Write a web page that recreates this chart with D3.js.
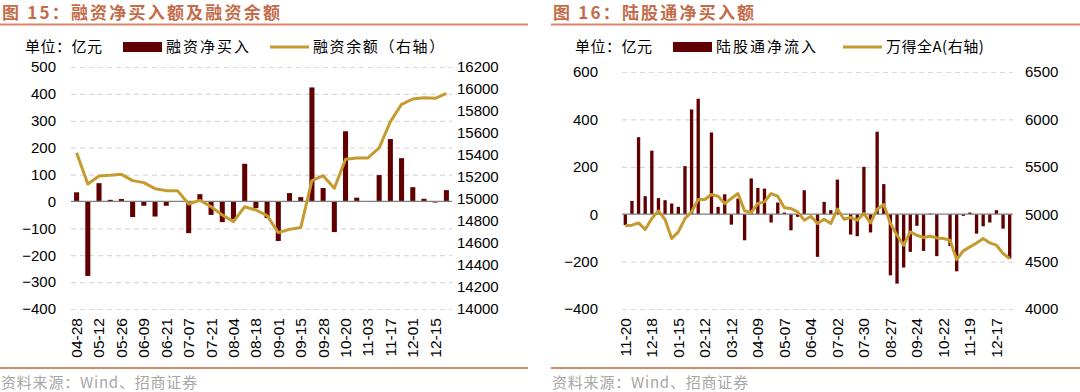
<!DOCTYPE html>
<html>
<head>
<meta charset="utf-8">
<script src="https://cdn.jsdelivr.net/npm/d3@7"></script>
<style>
  body { margin: 0; background: #fff; }
  .cjk { font-family: "Noto Sans CJK SC", "Noto Sans", sans-serif; }
</style>
</head>
<body>
<svg id="chart" width="1080" height="392"></svg>
<script>
'use strict';

// ---- left panel: margin financing (weekly) ----
const marginDates = ['04-28', '05-05', '05-12', '05-19', '05-26', '06-02', '06-09', '06-16', '06-21', '06-30',
  '07-07', '07-14', '07-21', '07-28', '08-04', '08-11', '08-18', '08-25', '09-01', '09-08',
  '09-15', '09-22', '09-28', '10-13', '10-20', '10-27', '11-03', '11-10', '11-17', '11-24',
  '12-01', '12-08', '12-15', '12-22'];
const marginNetBuy = [34, -277, 68, 6, 9, -58, -16, -56, -16, 0,
  -118, 27, -50, -77, -65, 140, -25, -62, -147, 31,
  16, 424, 50, -114, 261, 14, 0, 98, 232, 161,
  53, 10, -4, 42];
const marginBalance = [15421, 15136, 15209, 15215, 15224, 15167, 15149, 15094, 15076, 15076,
  14955, 14988, 14930, 14855, 14794, 14930, 14900, 14849, 14694, 14724,
  14740, 15167, 15212, 15097, 15361, 15373, 15373, 15464, 15703, 15861,
  15909, 15921, 15915, 15961];
const marginLeftTicks = [-400, -300, -200, -100, 0, 100, 200, 300, 400, 500];
const marginRightTicks = [14000, 14200, 14400, 14600, 14800, 15000, 15200, 15400, 15600, 15800, 16000, 16200];

// ---- right panel: northbound flow (weekly) ----
const hkDates = ['11-20', '11-27', '12-04', '12-11', '12-18', '12-25', '01-01', '01-08', '01-15', '01-22',
  '01-29', '02-05', '02-12', '02-19', '02-26', '03-05', '03-12', '03-19', '03-26', '04-02',
  '04-09', '04-16', '04-23', '04-30', '05-07', '05-14', '05-21', '05-28', '06-04', '06-11',
  '06-18', '06-25', '07-02', '07-09', '07-16', '07-23', '07-30', '08-06', '08-13', '08-20',
  '08-27', '09-03', '09-10', '09-17', '09-24', '10-01', '10-08', '10-15', '10-22', '10-29',
  '11-05', '11-12', '11-19', '11-26', '12-03', '12-10', '12-17', '12-24', '12-31'];
const hkNetFlow = [-46, 56, 325, 76, 268, 68, 59, 45, 31, 203,
  442, 487, 0, 345, 31, 84, -44, 66, -110, 151,
  111, 108, -35, 49, 7, -68, -11, 101, 0, -180,
  52, 17, 146, 0, -86, -93, 200, -77, 348, 127,
  -258, -293, -225, -159, -49, -155, 3, -177, 0, -134,
  -241, -7, 7, -82, -51, -35, 17, -61, -187];
const windA = [4877, 4884, 4908, 4838, 4954, 5035, 4944, 4743, 4813, 4954,
  5025, 5155, 5155, 5208, 5190, 5113, 5166, 5218, 5035, 5018,
  5113, 5130, 5218, 5190, 5067, 5060, 5025, 4937, 4979, 4901,
  4947, 4901, 5053, 4947, 4965, 4937, 5007, 4908, 5053, 5102,
  4901, 4778, 4673, 4813, 4778, 4754, 4768, 4750, 4743, 4725,
  4521, 4613, 4655, 4697, 4743, 4697, 4673, 4585, 4532];
const hkLeftTicks = [-400, -200, 0, 200, 400, 600];
const hkRightTicks = [4000, 4500, 5000, 5500, 6000, 6500];

const BAR_COLOR = '#600000';
const LINE_COLOR = '#C59B30';
const RULE_COLOR = '#D8876A';
const TITLE_COLOR = '#C46C4A';
const LATIN = '"Liberation Sans", Arial, sans-serif';

const svg = d3.select('#chart');

/** draws one combo panel (bars on left axis, line on right axis) */
function drawPanel (p) {
  const g = svg.append('g');

  // title and rule under it
  g.append('text')
    .attr('class', 'cjk')
    .attr('x', p.x0 + 2).attr('y', 19)
    .attr('font-size', 17).attr('font-weight', 'bold')
    .attr('letter-spacing', 2.2)
    .attr('fill', TITLE_COLOR)
    .text(p.title);
  g.append('line')
    .attr('x1', p.x0).attr('x2', p.x1)
    .attr('y1', 24.5).attr('y2', 24.5)
    .attr('stroke', RULE_COLOR).attr('stroke-width', 2);

  // legend
  const lg = g.append('g').attr('class', 'cjk').attr('font-size', 15).attr('fill', '#000');
  lg.append('text').attr('x', p.legend[0]).attr('y', 52).attr('letter-spacing', 0.5).text('单位：亿元');
  lg.append('rect').attr('x', p.legend[1]).attr('y', 42).attr('width', 39).attr('height', 10).attr('fill', BAR_COLOR);
  lg.append('text').attr('x', p.legend[1] + 43).attr('y', 52).attr('letter-spacing', 2).text(p.barName);
  lg.append('line').attr('x1', p.legend[2]).attr('x2', p.legend[2] + 39)
    .attr('y1', 47).attr('y2', 47).attr('stroke', LINE_COLOR).attr('stroke-width', 3);
  lg.append('text').attr('x', p.legend[2] + 43).attr('y', 52).attr('letter-spacing', p.lineSpacing).text(p.lineName);

  // scales
  const x = d3.scaleBand()
    .domain(p.dates)
    .range([p.left, p.right])
    .paddingInner(p.pad)
    .paddingOuter(p.pad / 2);
  const yL = d3.scaleLinear().domain(d3.extent(p.leftTicks)).range([p.bottom, p.top]);
  const yR = d3.scaleLinear().domain(d3.extent(p.rightTicks)).range([p.bottom, p.top]);
  const half = x.bandwidth() / 2;

  // dashed gridlines
  g.append('g')
    .attr('transform', `translate(${p.left},0)`)
    .call(d3.axisLeft(yL).tickValues(p.leftTicks.filter(v => v !== 0)).tickSize(-(p.right - p.left)).tickFormat(''))
    .call(a => a.select('.domain').remove())
    .selectAll('line')
      .attr('stroke', '#D9D9D9')
      .attr('stroke-width', 1.2)
      .attr('stroke-dasharray', '5,4');

  // left tick labels
  g.append('g')
    .attr('transform', `translate(${p.leftLabelX},0)`)
    .call(d3.axisLeft(yL).tickValues(p.leftTicks).tickSize(0).tickPadding(0).tickFormat(d3.format('d')))
    .attr('font-family', LATIN).attr('font-size', 15)
    .call(a => a.select('.domain').remove())
    .selectAll('text').attr('fill', '#000');

  // right tick labels
  g.append('g')
    .attr('transform', `translate(${p.rightLabelX},0)`)
    .call(d3.axisRight(yR).tickValues(p.rightTicks).tickSize(0).tickPadding(0).tickFormat(d3.format('d')))
    .attr('font-family', LATIN).attr('font-size', 15)
    .call(a => a.select('.domain').remove())
    .selectAll('text').attr('fill', '#000');

  // bars
  g.append('g')
    .selectAll('rect')
    .data(p.bars)
    .join('rect')
      .attr('x', (d, i) => x(p.dates[i]))
      .attr('y', d => yL(Math.max(0, d)))
      .attr('width', x.bandwidth())
      .attr('height', d => Math.abs(yL(d) - yL(0)))
      .attr('fill', BAR_COLOR);

  // zero line
  g.append('line')
    .attr('x1', p.left).attr('x2', p.right)
    .attr('y1', yL(0)).attr('y2', yL(0))
    .attr('stroke', '#7F7F7F').attr('stroke-width', 1.3);

  // line series on right axis
  g.append('path')
    .datum(p.line)
    .attr('fill', 'none')
    .attr('stroke', LINE_COLOR)
    .attr('stroke-width', 3)
    .attr('stroke-linejoin', 'round')
    .attr('d', d3.line().x((d, i) => x(p.dates[i]) + half).y(d => yR(d)));

  // rotated category labels
  g.append('g')
    .attr('transform', `translate(0,${p.xLabelY})`)
    .call(d3.axisBottom(x).tickValues(p.dates.filter((d, i) => i % p.every === 0)).tickSize(0))
    .attr('font-family', LATIN).attr('font-size', 15.5)
    .call(a => a.select('.domain').remove())
    .selectAll('text')
      .attr('fill', '#000')
      .attr('transform', 'rotate(-90)')
      .attr('text-anchor', 'end')
      .attr('x', 0).attr('y', 0)
      .attr('dy', '0.35em');

  // footer
  g.append('line')
    .attr('x1', p.x0).attr('x2', p.x1)
    .attr('y1', 368).attr('y2', 368)
    .attr('stroke', RULE_COLOR).attr('stroke-width', 2);
  g.append('text')
    .attr('class', 'cjk')
    .attr('x', p.x0 + 1).attr('y', 388)
    .attr('font-size', 15).attr('fill', '#A6A6A6')
    .attr('letter-spacing', 0.8)
    .text('资料来源：Wind、招商证券');
}

drawPanel({
  x0: 0, x1: 528,
  title: '图 15：融资净买入额及融资余额',
  legend: [25, 123, 270],
  barName: '融资净买入', lineName: '融资余额（右轴）', lineSpacing: 1.6,
  dates: marginDates, bars: marginNetBuy, line: marginBalance,
  leftTicks: marginLeftTicks, rightTicks: marginRightTicks,
  left: 71, right: 452, top: 67, bottom: 309, pad: 0.55,
  leftLabelX: 56, rightLabelX: 457, xLabelY: 318, every: 2
});

drawPanel({
  x0: 551, x1: 1080,
  title: '图 16：陆股通净买入额',
  legend: [575, 673, 843],
  barName: '陆股通净流入', lineName: '万得全A(右轴)', lineSpacing: 0.5,
  dates: hkDates, bars: hkNetFlow, line: windA,
  leftTicks: hkLeftTicks, rightTicks: hkRightTicks,
  left: 622, right: 1013, top: 72, bottom: 309, pad: 0.5,
  leftLabelX: 598, rightLabelX: 1025, xLabelY: 318, every: 4
});
</script>
</body>
</html>
